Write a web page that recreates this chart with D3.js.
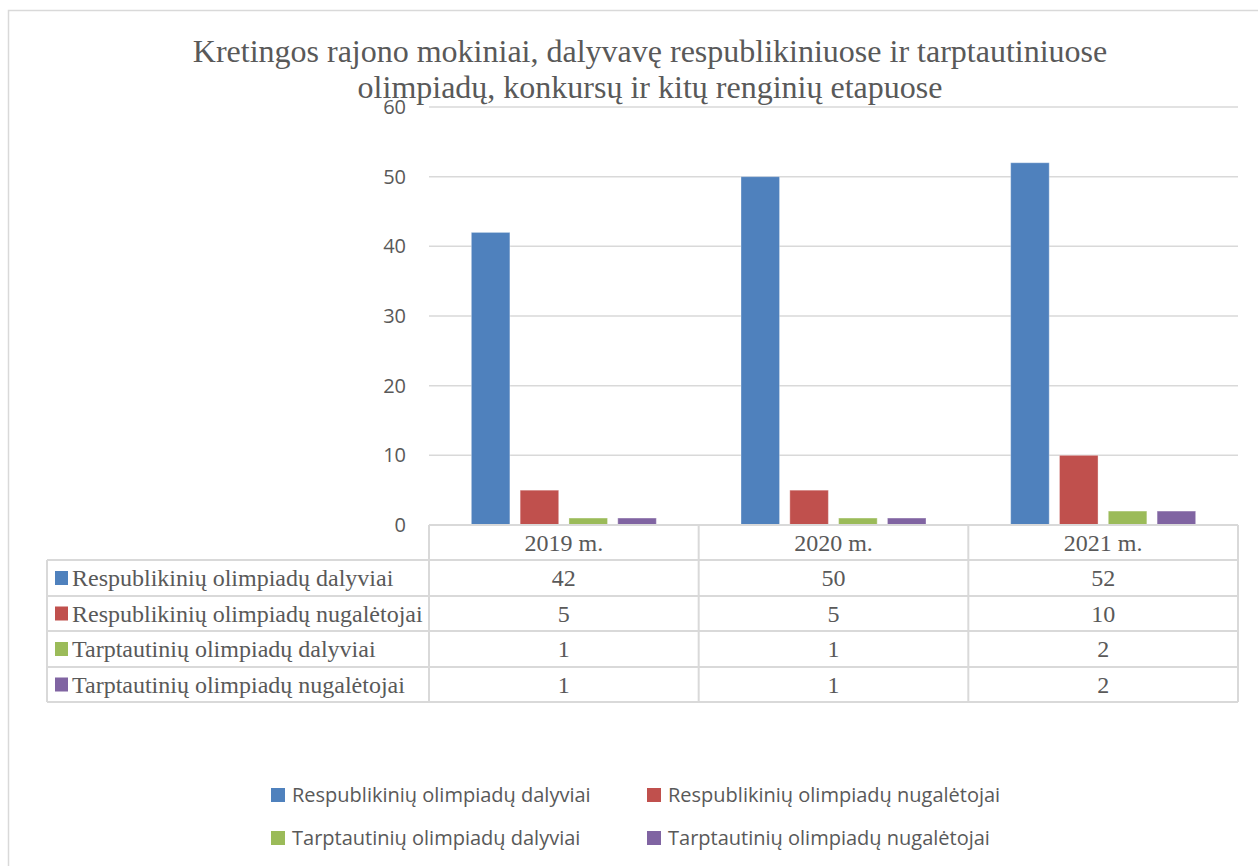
<!DOCTYPE html>
<html>
<head>
<meta charset="utf-8">
<script src="https://cdn.jsdelivr.net/npm/d3@7"></script>
<style>
  body { margin: 0; background: #fff; }
  svg { display: block; }
</style>
</head>
<body>
<div class="chart"></div>
<script>
var svgWidth = 1258;
var svgHeight = 866;

// chart data
var years = ["2019 m.", "2020 m.", "2021 m."];
var seriesNames = [
  "Respublikinių olimpiadų dalyviai",
  "Respublikinių olimpiadų nugalėtojai",
  "Tarptautinių olimpiadų dalyviai",
  "Tarptautinių olimpiadų nugalėtojai"
];
var respDalyviai = [42, 50, 52];
var respNugaletojai = [5, 5, 10];
var tarpDalyviai = [1, 1, 2];
var tarpNugaletojai = [1, 1, 2];
var yTicks = [0, 10, 20, 30, 40, 50, 60];
var colors = ["#4F81BD", "#C0504D", "#9BBB59", "#8064A2"];

var seriesValues = [respDalyviai, respNugaletojai, tarpDalyviai, tarpNugaletojai];

var plot = { left: 429, right: 1238, top: 107, bottom: 525 };
var textColor = "#595959";
var gridColor = "#D9D9D9";
var serif = "Liberation Serif, Times New Roman, serif";
var sans = "Open Sans, Liberation Sans, sans-serif";

var svg = d3.select(".chart")
  .append("svg")
  .attr("width", svgWidth)
  .attr("height", svgHeight);

// outer frame
svg.append("rect")
  .attr("x", 8.5).attr("y", 10.5)
  .attr("width", 1270).attr("height", 880)
  .attr("fill", "none")
  .attr("stroke", gridColor)
  .attr("stroke-width", 1.5);

// title
var title = svg.append("text")
  .attr("text-anchor", "middle")
  .attr("font-family", serif)
  .attr("font-size", 32)
  .attr("fill", textColor);
title.append("tspan").attr("x", 650).attr("y", 62)
  .text("Kretingos rajono mokiniai, dalyvavę respublikiniuose ir tarptautiniuose");
title.append("tspan").attr("x", 650).attr("y", 98)
  .text("olimpiadų, konkursų ir kitų renginių etapuose");

// scales
var x0 = d3.scaleBand()
  .domain(years)
  .range([plot.left, plot.right])
  .padding(0);

var groupWidth = 185;
var x1 = d3.scaleBand()
  .domain(d3.range(seriesNames.length))
  .range([(x0.bandwidth() - groupWidth) / 2, (x0.bandwidth() + groupWidth) / 2])
  .paddingInner(0.21)
  .paddingOuter(0);

var y = d3.scaleLinear()
  .domain([0, 60])
  .range([plot.bottom, plot.top]);

// gridlines
svg.append("g")
  .selectAll("line")
  .data(yTicks.filter(d => d > 0))
  .enter()
  .append("line")
  .attr("x1", plot.left).attr("x2", plot.right)
  .attr("y1", d => y(d)).attr("y2", d => y(d))
  .attr("stroke", gridColor)
  .attr("stroke-width", 1.5);

// y axis labels
var leftAxis = d3.axisLeft(y).tickValues(yTicks).tickSize(0).tickPadding(23);
var yAxisG = svg.append("g")
  .attr("transform", `translate(${plot.left}, 0)`)
  .call(leftAxis);
yAxisG.select(".domain").remove();
yAxisG.selectAll("text")
  .attr("font-family", sans)
  .attr("font-size", 20)
  .attr("fill", textColor);

// bars
var groups = svg.append("g")
  .selectAll("g")
  .data(years)
  .enter()
  .append("g")
  .attr("transform", d => `translate(${x0(d)}, 0)`);

groups.selectAll("rect")
  .data((d, i) => seriesValues.map((vals, s) => ({ s: s, v: vals[i] })))
  .enter()
  .append("rect")
  .attr("x", d => x1(d.s))
  .attr("width", x1.bandwidth())
  .attr("y", d => y(d.v))
  .attr("height", d => y(0) - y(d.v))
  .attr("fill", d => colors[d.s])
  .attr("stroke", "rgba(255,255,255,0.35)")
  .attr("stroke-width", 1);

// data table
var tableLeft = 47;
var rowLines = [525, 560, 596, 631, 667, 702];
var table = svg.append("g")
  .attr("stroke", gridColor)
  .attr("stroke-width", 2);

// horizontal lines
table.append("line")
  .attr("x1", plot.left).attr("x2", plot.right)
  .attr("y1", rowLines[0]).attr("y2", rowLines[0]);
rowLines.slice(1).forEach(function(yy) {
  table.append("line")
    .attr("x1", tableLeft).attr("x2", plot.right)
    .attr("y1", yy).attr("y2", yy);
});
// vertical lines
table.append("line")
  .attr("x1", tableLeft).attr("x2", tableLeft)
  .attr("y1", rowLines[1]).attr("y2", rowLines[5]);
years.forEach(function(d) {
  table.append("line")
    .attr("x1", x0(d)).attr("x2", x0(d))
    .attr("y1", rowLines[0]).attr("y2", rowLines[5]);
});
table.append("line")
  .attr("x1", plot.right).attr("x2", plot.right)
  .attr("y1", rowLines[0]).attr("y2", rowLines[5]);

// header row
svg.append("g")
  .selectAll("text")
  .data(years)
  .enter()
  .append("text")
  .attr("x", d => x0(d) + x0.bandwidth() / 2)
  .attr("y", (rowLines[0] + rowLines[1]) / 2)
  .attr("dy", "0.35em")
  .attr("text-anchor", "middle")
  .attr("font-family", serif)
  .attr("font-size", 24)
  .attr("fill", textColor)
  .text(d => d);

// series rows
seriesNames.forEach(function(name, s) {
  var cy = (rowLines[s + 1] + rowLines[s + 2]) / 2;
  svg.append("rect")
    .attr("x", 55).attr("y", cy - 7)
    .attr("width", 13).attr("height", 14)
    .attr("fill", colors[s]);
  svg.append("text")
    .attr("x", 72).attr("y", cy)
    .attr("dy", "0.35em")
    .attr("font-family", serif)
    .attr("font-size", 24)
    .attr("fill", textColor)
    .text(name);
  svg.append("g")
    .selectAll("text")
    .data(seriesValues[s])
    .enter()
    .append("text")
    .attr("x", (d, i) => x0(years[i]) + x0.bandwidth() / 2)
    .attr("y", cy)
    .attr("dy", "0.35em")
    .attr("text-anchor", "middle")
    .attr("font-family", serif)
    .attr("font-size", 24)
    .attr("fill", textColor)
    .text(d => d);
});

// legend
var legendPos = [[271, 795], [647, 795], [271, 838], [647, 838]];
var legend = svg.append("g")
  .selectAll("g")
  .data(seriesNames)
  .enter()
  .append("g")
  .attr("transform", (d, i) => `translate(${legendPos[i][0]}, ${legendPos[i][1]})`);

legend.append("rect")
  .attr("x", 0).attr("y", -7)
  .attr("width", 14).attr("height", 14)
  .attr("fill", (d, i) => colors[i]);

legend.append("text")
  .attr("x", 21).attr("y", 0)
  .attr("dy", "0.35em")
  .attr("font-family", sans)
  .attr("font-size", 20)
  .attr("fill", textColor)
  .text(d => d);
</script>
</body>
</html>
